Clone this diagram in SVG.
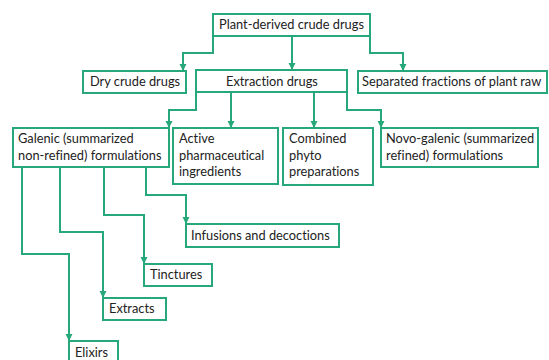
<svg xmlns="http://www.w3.org/2000/svg" width="549" height="360" viewBox="0 0 549 360">
<defs>
<style>
.box{fill:#fff;stroke:#27a87b;stroke-width:2}
.t{font-family:Lato,"Liberation Sans",sans-serif;font-size:12.8px;fill:#222;font-variant-ligatures:none}
.c{fill:none;stroke:#27a87b;stroke-width:2;marker-end:url(#ah)}
</style>
<marker id="ah" markerUnits="userSpaceOnUse" markerWidth="8" markerHeight="8" refX="7" refY="4" orient="auto">
<path d="M0,0.5 L7,4 L0,7.5 z" fill="#27a87b"/>
</marker>
</defs>
<rect width="549" height="360" fill="#fff"/>
<g id="connectors">
<path class="c" d="M213,36 V53 H183 V71"/>
<path class="c" d="M292,36 V70"/>
<path class="c" d="M370,36 V53 H403 V71"/>
<path class="c" d="M196,92 V110 H169 V128"/>
<path class="c" d="M231,92 V128"/>
<path class="c" d="M314,92 V128"/>
<path class="c" d="M347,92 V110 H381 V128"/>
<path class="c" d="M146,167 V195 H186 V224"/>
<path class="c" d="M104,167 V215 H144 V264"/>
<path class="c" d="M60,167 V232 H103 V298"/>
<path class="c" d="M22,167 V254 H69 V341"/>
</g>
<g id="plant"><rect class="box" x="213" y="14" width="157" height="22"/><text class="t" x="219" y="29">Plant-derived crude drugs</text></g>
<g id="dry"><rect class="box" x="83" y="71" width="103" height="22"/><text class="t" x="90" y="86">Dry crude drugs</text></g>
<g id="extraction"><rect class="box" x="196" y="70" width="151" height="22"/><text class="t" x="226" y="86">Extraction drugs</text></g>
<g id="separated"><rect class="box" x="358" y="71" width="189" height="22"/><text class="t" x="362" y="86">Separated fractions of plant raw</text></g>
<g id="galenic"><rect class="box" x="13" y="128" width="156" height="39"/><text class="t" x="18" y="143">Galenic (summarized</text><text class="t" x="18" y="160">non-refined) formulations</text></g>
<g id="active"><rect class="box" x="173" y="128" width="105" height="56"/><text class="t" x="179" y="143">Active</text><text class="t" x="179" y="160">pharmaceutical</text><text class="t" x="179" y="176">ingredients</text></g>
<g id="combined"><rect class="box" x="283" y="128" width="90" height="57"/><text class="t" x="289" y="143">Combined</text><text class="t" x="289" y="160">phyto</text><text class="t" x="289" y="176">preparations</text></g>
<g id="novo"><rect class="box" x="381" y="128" width="157" height="39"/><text class="t" x="386" y="143">Novo-galenic (summarized</text><text class="t" x="386" y="160">refined) formulations</text></g>
<g id="infusions"><rect class="box" x="186" y="224" width="153" height="23"/><text class="t" x="191" y="240">Infusions and decoctions</text></g>
<g id="tinctures"><rect class="box" x="144" y="264" width="68" height="22"/><text class="t" x="150" y="279">Tinctures</text></g>
<g id="extracts"><rect class="box" x="103" y="298" width="63" height="22"/><text class="t" x="109" y="313">Extracts</text></g>
<g id="elixirs"><rect class="box" x="69" y="341" width="49" height="25"/><text class="t" x="75" y="357">Elixirs</text></g>
</svg>
